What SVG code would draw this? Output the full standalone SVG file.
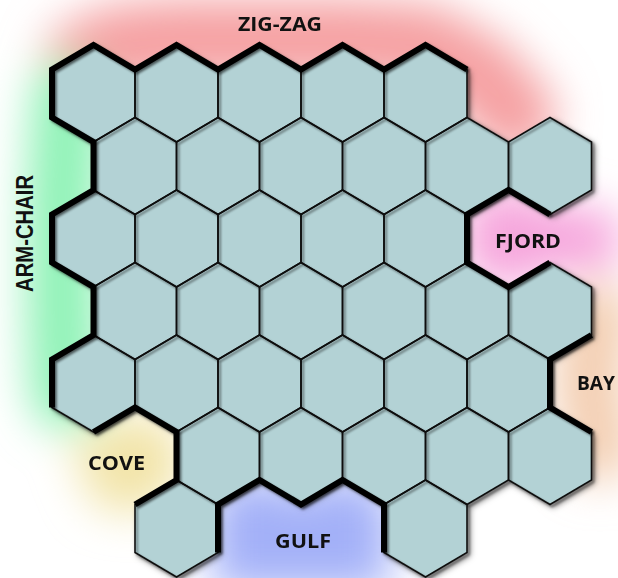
<svg xmlns="http://www.w3.org/2000/svg" xmlns:xlink="http://www.w3.org/1999/xlink" width="618" height="578" viewBox="0 0 618 578">
  <defs>
    <style>
      .cell { fill: #b3d2d5; }
      .outline { fill: none; stroke: #111; stroke-width: 1.6; stroke-linejoin: miter; }
      .edge { fill: none; stroke: #000; stroke-width: 6; stroke-linejoin: miter; stroke-linecap: butt; }
      .label { font-family: "Open Sans", Lato, "Liberation Sans", sans-serif; font-weight: bold; font-size: 20px; fill: #111; text-anchor: middle; }
      .glowline { fill: none; stroke-linejoin: round; stroke-linecap: round; }
    </style>
    <polygon id="hex" points="0,-48.5 41.5,-24 41.5,24 0,48.5 -41.5,24 -41.5,-24"/>
    <filter id="glow" x="-50%" y="-50%" width="200%" height="200%">
      <feGaussianBlur stdDeviation="22"/>
    </filter>
    <filter id="gridShadow" x="-10%" y="-10%" width="120%" height="120%">
      <feDropShadow dx="3" dy="3" stdDeviation="3" flood-color="#000" flood-opacity="0.55"/>
    </filter>
    <filter id="lineShadow" x="-10%" y="-10%" width="120%" height="120%">
      <feDropShadow dx="2" dy="2" stdDeviation="1.2" flood-color="#000" flood-opacity="0.45"/>
    </filter>
  </defs>

  <rect width="618" height="578" fill="#ffffff"/>

  <!-- soft coloured glows behind the boundary regions -->
  <g id="glows" filter="url(#glow)">
    <polyline class="glowline" stroke="#f5a0a2" stroke-width="80" points="85,60 120,45 176.5,40 259.5,40 342.5,40 425.5,45 480,75 515,115"/>
    <polyline class="glowline" stroke="#8ef2b6" stroke-width="70" points="68,95 62,200 62,320 66,395"/>
    <polygon fill="#f2e4a8" points="70,445 110,425 140,410 180,435 180,485 140,515 95,505"/>
    <polygon fill="#a3b0f8" points="212,495 259.5,472 301,495 342.5,472 390,495 390,590 212,590"/>
    <polygon fill="#f6a5dc" points="465,205 508.5,185 550,205 610,210 625,240 610,270 550,270 508.5,290 465,270"/>
    <polyline class="glowline" stroke="#f3cdb0" stroke-width="65" points="598,315 588,380 600,450"/>
  </g>

  <!-- hex cells -->
  <g id="cells" filter="url(#gridShadow)">
    <g id="hex-r1-c1"><use xlink:href="#hex" class="cell" x="93.5" y="93.5"/></g>
    <g id="hex-r1-c2"><use xlink:href="#hex" class="cell" x="176.5" y="93.5"/></g>
    <g id="hex-r1-c3"><use xlink:href="#hex" class="cell" x="259.5" y="93.5"/></g>
    <g id="hex-r1-c4"><use xlink:href="#hex" class="cell" x="342.5" y="93.5"/></g>
    <g id="hex-r1-c5"><use xlink:href="#hex" class="cell" x="425.5" y="93.5"/></g>

    <g id="hex-r2-c1"><use xlink:href="#hex" class="cell" x="135" y="166"/></g>
    <g id="hex-r2-c2"><use xlink:href="#hex" class="cell" x="218" y="166"/></g>
    <g id="hex-r2-c3"><use xlink:href="#hex" class="cell" x="301" y="166"/></g>
    <g id="hex-r2-c4"><use xlink:href="#hex" class="cell" x="384" y="166"/></g>
    <g id="hex-r2-c5"><use xlink:href="#hex" class="cell" x="467" y="166"/></g>
    <g id="hex-r2-c6"><use xlink:href="#hex" class="cell" x="550" y="166"/></g>

    <g id="hex-r3-c1"><use xlink:href="#hex" class="cell" x="93.5" y="238.5"/></g>
    <g id="hex-r3-c2"><use xlink:href="#hex" class="cell" x="176.5" y="238.5"/></g>
    <g id="hex-r3-c3"><use xlink:href="#hex" class="cell" x="259.5" y="238.5"/></g>
    <g id="hex-r3-c4"><use xlink:href="#hex" class="cell" x="342.5" y="238.5"/></g>
    <g id="hex-r3-c5"><use xlink:href="#hex" class="cell" x="425.5" y="238.5"/></g>

    <g id="hex-r4-c1"><use xlink:href="#hex" class="cell" x="135" y="311"/></g>
    <g id="hex-r4-c2"><use xlink:href="#hex" class="cell" x="218" y="311"/></g>
    <g id="hex-r4-c3"><use xlink:href="#hex" class="cell" x="301" y="311"/></g>
    <g id="hex-r4-c4"><use xlink:href="#hex" class="cell" x="384" y="311"/></g>
    <g id="hex-r4-c5"><use xlink:href="#hex" class="cell" x="467" y="311"/></g>
    <g id="hex-r4-c6"><use xlink:href="#hex" class="cell" x="550" y="311"/></g>

    <g id="hex-r5-c1"><use xlink:href="#hex" class="cell" x="93.5" y="383.5"/></g>
    <g id="hex-r5-c2"><use xlink:href="#hex" class="cell" x="176.5" y="383.5"/></g>
    <g id="hex-r5-c3"><use xlink:href="#hex" class="cell" x="259.5" y="383.5"/></g>
    <g id="hex-r5-c4"><use xlink:href="#hex" class="cell" x="342.5" y="383.5"/></g>
    <g id="hex-r5-c5"><use xlink:href="#hex" class="cell" x="425.5" y="383.5"/></g>
    <g id="hex-r5-c6"><use xlink:href="#hex" class="cell" x="508.5" y="383.5"/></g>

    <g id="hex-r6-c2"><use xlink:href="#hex" class="cell" x="218" y="456"/></g>
    <g id="hex-r6-c3"><use xlink:href="#hex" class="cell" x="301" y="456"/></g>
    <g id="hex-r6-c4"><use xlink:href="#hex" class="cell" x="384" y="456"/></g>
    <g id="hex-r6-c5"><use xlink:href="#hex" class="cell" x="467" y="456"/></g>
    <g id="hex-r6-c6"><use xlink:href="#hex" class="cell" x="550" y="456"/></g>

    <g id="hex-r7-c2"><use xlink:href="#hex" class="cell" x="176.5" y="528.5"/></g>
    <g id="hex-r7-c5"><use xlink:href="#hex" class="cell" x="425.5" y="528.5"/></g>
  </g>

  <!-- cell outlines and boundary edges -->
  <g id="outlines" class="outline" filter="url(#lineShadow)">
    <use xlink:href="#hex" x="93.5" y="93.5"/><use xlink:href="#hex" x="176.5" y="93.5"/><use xlink:href="#hex" x="259.5" y="93.5"/><use xlink:href="#hex" x="342.5" y="93.5"/><use xlink:href="#hex" x="425.5" y="93.5"/>
    <use xlink:href="#hex" x="135" y="166"/><use xlink:href="#hex" x="218" y="166"/><use xlink:href="#hex" x="301" y="166"/><use xlink:href="#hex" x="384" y="166"/><use xlink:href="#hex" x="467" y="166"/><use xlink:href="#hex" x="550" y="166"/>
    <use xlink:href="#hex" x="93.5" y="238.5"/><use xlink:href="#hex" x="176.5" y="238.5"/><use xlink:href="#hex" x="259.5" y="238.5"/><use xlink:href="#hex" x="342.5" y="238.5"/><use xlink:href="#hex" x="425.5" y="238.5"/>
    <use xlink:href="#hex" x="135" y="311"/><use xlink:href="#hex" x="218" y="311"/><use xlink:href="#hex" x="301" y="311"/><use xlink:href="#hex" x="384" y="311"/><use xlink:href="#hex" x="467" y="311"/><use xlink:href="#hex" x="550" y="311"/>
    <use xlink:href="#hex" x="93.5" y="383.5"/><use xlink:href="#hex" x="176.5" y="383.5"/><use xlink:href="#hex" x="259.5" y="383.5"/><use xlink:href="#hex" x="342.5" y="383.5"/><use xlink:href="#hex" x="425.5" y="383.5"/><use xlink:href="#hex" x="508.5" y="383.5"/>
    <use xlink:href="#hex" x="218" y="456"/><use xlink:href="#hex" x="301" y="456"/><use xlink:href="#hex" x="384" y="456"/><use xlink:href="#hex" x="467" y="456"/><use xlink:href="#hex" x="550" y="456"/>
    <use xlink:href="#hex" x="176.5" y="528.5"/><use xlink:href="#hex" x="425.5" y="528.5"/>
  </g>

  <g id="edges" filter="url(#lineShadow)">
    <polyline id="edge-armchair-zigzag" class="edge" points="52,407.5 52,359.5 93.5,335 93.5,287 52,262.5 52,214.5 93.5,190 93.5,142 52,117.5 52,69.5 93.5,45 135,69.5 176.5,45 218,69.5 259.5,45 301,69.5 342.5,45 384,69.5 425.5,45 467,69.5"/>
    <polyline id="edge-cove" class="edge" points="93.5,432 135,407.5 176.5,432 176.5,480 135,504.5"/>
    <polyline id="edge-gulf" class="edge" points="218,552.5 218,504.5 259.5,480 301,504.5 342.5,480 384,504.5 384,552.5"/>
    <polyline id="edge-fjord" class="edge" points="550,214.5 508.5,190 467,214.5 467,262.5 508.5,287 550,262.5"/>
    <polyline id="edge-bay" class="edge" points="591.5,335 550,359.5 550,407.5 591.5,432"/>
  </g>

  <!-- labels -->
  <g id="labels">
    <text class="label" x="280" y="31" textLength="84" lengthAdjust="spacingAndGlyphs">ZIG-ZAG</text>
    <text class="label" transform="translate(33,233.5) rotate(-90)" x="0" y="0" style="font-family:'Liberation Sans', Arial, sans-serif; font-size:24px" textLength="117" lengthAdjust="spacingAndGlyphs">ARM-CHAIR</text>
    <text class="label" x="528" y="248" font-size="21" textLength="66" lengthAdjust="spacingAndGlyphs">FJORD</text>
    <text class="label" x="596" y="390" font-size="21" textLength="38" lengthAdjust="spacingAndGlyphs">BAY</text>
    <text class="label" x="116.5" y="470" font-size="21" textLength="57" lengthAdjust="spacingAndGlyphs">COVE</text>
    <text class="label" x="303" y="548" font-size="21" textLength="56" lengthAdjust="spacingAndGlyphs">GULF</text>
  </g>
</svg>
